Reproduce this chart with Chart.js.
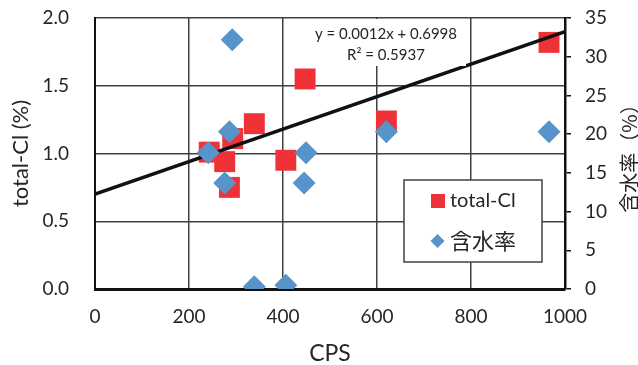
<!DOCTYPE html>
<html>
<head>
<meta charset="utf-8">
<script src="https://cdn.jsdelivr.net/npm/chart.js@4"></script>
<style>
  html, body { margin: 0; padding: 0; background: #fff; }
</style>
</head>
<body>
<canvas id="myChart" width="638" height="365"></canvas>
<script>
// total-Cl (左軸)
var clCps = [243, 293, 339, 276, 286, 406, 447, 620, 966];
var clValues = [1.01, 1.11, 1.22, 0.94, 0.75, 0.95, 1.55, 1.24, 1.82];
// 含水率 (右軸)
var waterCps = [292, 286, 241, 276, 449, 445, 339, 406, 620, 966];
var waterValues = [32.2, 20.3, 17.6, 13.7, 17.6, 13.7, 0.3, 0.5, 20.3, 20.3];
// 近似直線 (図中の式)
var trendSlope = 0.0012;
var trendIntercept = 0.6998;
var trendR2 = '0.5937';
var trendFrom = 0, trendTo = 1000;

var clLabel = 'total-Cl';
var waterLabel = '含水率';
var xTitle = 'CPS';
var yTitle = 'total-Cl (%)';
var y2Title = '含水率（%）';

var redColor = '#EE3237';
var blueColor = '#5794C9';
var textColor = '#262626';
var latinFont = 'Lato, "Noto Sans CJK JP", sans-serif';
var cjkFont = '"Noto Sans CJK JP", sans-serif';

function toPoints(xs, ys) {
    var out = [];
    for (var i = 0; i < xs.length; i++) out.push({ x: xs[i], y: ys[i] });
    return out;
}

var trendPoints = [
    { x: trendFrom, y: trendSlope * trendFrom + trendIntercept },
    { x: trendTo, y: trendSlope * trendTo + trendIntercept }
];

// 縦軸の幅を固定、上下の余白は付けない
function fitVertical(width) {
    return function (s) {
        s.width = width;
        s.paddingTop = 0;
        s.paddingBottom = 0;
    };
}

// 近似式・凡例・右軸タイトル
var overlayPlugin = {
    id: 'overlay',
    afterDatasetsDraw: function (chart) {
        var ctx = chart.ctx;
        var area = chart.chartArea;
        ctx.save();
        // 近似式の白い枠
        ctx.fillStyle = '#fff';
        ctx.fillRect(306, area.top + 1, 160, 47);
        ctx.fillStyle = textColor;
        ctx.font = '15px ' + latinFont;
        ctx.textAlign = 'center';
        ctx.textBaseline = 'middle';
        ctx.fillText('y = ' + trendSlope + 'x + ' + trendIntercept, 386, 34);
        ctx.fillText('R\u00B2 = ' + trendR2, 386, 55);
        ctx.restore();
    },
    afterDraw: function (chart) {
        var ctx = chart.ctx;
        var area = chart.chartArea;
        ctx.save();
        // 凡例
        var lx = area.right - 161, ly = area.bottom - 109;
        ctx.fillStyle = '#fff';
        ctx.fillRect(lx, ly, 138, 82);
        ctx.strokeStyle = '#404040';
        ctx.lineWidth = 1.5;
        ctx.strokeRect(lx, ly, 138, 82);
        ctx.fillStyle = redColor;
        ctx.fillRect(lx + 27, ly + 14, 14, 14);
        ctx.fillStyle = blueColor;
        ctx.beginPath();
        ctx.moveTo(lx + 33.5, ly + 54);
        ctx.lineTo(lx + 40.5, ly + 61);
        ctx.lineTo(lx + 33.5, ly + 68);
        ctx.lineTo(lx + 26.5, ly + 61);
        ctx.closePath();
        ctx.fill();
        ctx.fillStyle = textColor;
        ctx.textAlign = 'left';
        ctx.textBaseline = 'middle';
        ctx.font = '20px ' + latinFont;
        ctx.fillText(clLabel, lx + 46, ly + 21);
        ctx.font = '22px ' + cjkFont;
        ctx.fillText(waterLabel, lx + 46, ly + 61);
        // 右軸タイトル (下から上へ)
        ctx.translate(629, (area.top + area.bottom) / 2);
        ctx.rotate(-Math.PI / 2);
        ctx.textAlign = 'center';
        ctx.font = '20px ' + cjkFont;
        ctx.fillText(y2Title, 0, 0);
        ctx.restore();
    }
};

var ctx1 = document.getElementById('myChart');
var myChart = new Chart(ctx1, {
    type: 'scatter',
    data: {
        datasets: [{
            label: waterLabel,
            data: toPoints(waterCps, waterValues),
            yAxisID: 'y2',
            pointStyle: 'rectRot',
            pointRadius: 11.5,
            pointHoverRadius: 11.5,
            backgroundColor: blueColor,
            borderWidth: 0
        }, {
            type: 'line',
            label: 'trend',
            data: trendPoints,
            yAxisID: 'y',
            borderColor: '#111',
            borderWidth: 3.5,
            pointRadius: 0,
            fill: false
        }, {
            label: clLabel,
            data: toPoints(clCps, clValues),
            yAxisID: 'y',
            pointStyle: 'rect',
            pointRadius: 14.8,
            pointHoverRadius: 14.8,
            backgroundColor: redColor,
            borderWidth: 0
        }]
    },
    options: {
        responsive: false,
        animation: false,
        devicePixelRatio: 1,
        layout: { padding: { top: 18, left: 0, right: 0, bottom: 0 } },
        plugins: {
            legend: { display: false },
            tooltip: { enabled: false }
        },
        scales: {
            x: {
                type: 'linear',
                min: 0, max: 1000,
                afterFit: function (s) { s.height = 76; },
                ticks: {
                    stepSize: 200,
                    padding: 16,
                    color: textColor,
                    font: { family: latinFont, size: 19 },
                    callback: function (v) { return String(v); }
                },
                grid: { color: '#404040', lineWidth: 1.5, drawTicks: false },
                border: { color: '#111', width: 3 },
                title: {
                    display: true,
                    text: xTitle,
                    color: textColor,
                    font: { family: latinFont, size: 23, lineHeight: 1 },
                    padding: { top: 0, bottom: 0 }
                }
            },
            y: {
                position: 'left',
                min: 0, max: 2,
                afterFit: fitVertical(95),
                ticks: {
                    stepSize: 0.5,
                    padding: 26,
                    color: textColor,
                    font: { family: latinFont, size: 19 },
                    callback: function (v) { return v.toFixed(1); }
                },
                grid: { color: '#404040', lineWidth: 1.5, drawTicks: false },
                border: { color: '#111', width: 2 },
                title: {
                    display: true,
                    text: yTitle,
                    color: textColor,
                    font: { family: latinFont, size: 22, lineHeight: 1 },
                    padding: { top: 10, bottom: 0 }
                }
            },
            y2: {
                position: 'right',
                min: 0, max: 35,
                afterFit: fitVertical(73),
                ticks: {
                    stepSize: 5,
                    padding: 14,
                    color: textColor,
                    font: { family: latinFont, size: 19 }
                },
                grid: { drawOnChartArea: false, color: '#111', lineWidth: 1.5, tickLength: 6 },
                border: { color: '#111', width: 2.5 }
            }
        }
    },
    plugins: [overlayPlugin]
});
</script>
</body>
</html>
